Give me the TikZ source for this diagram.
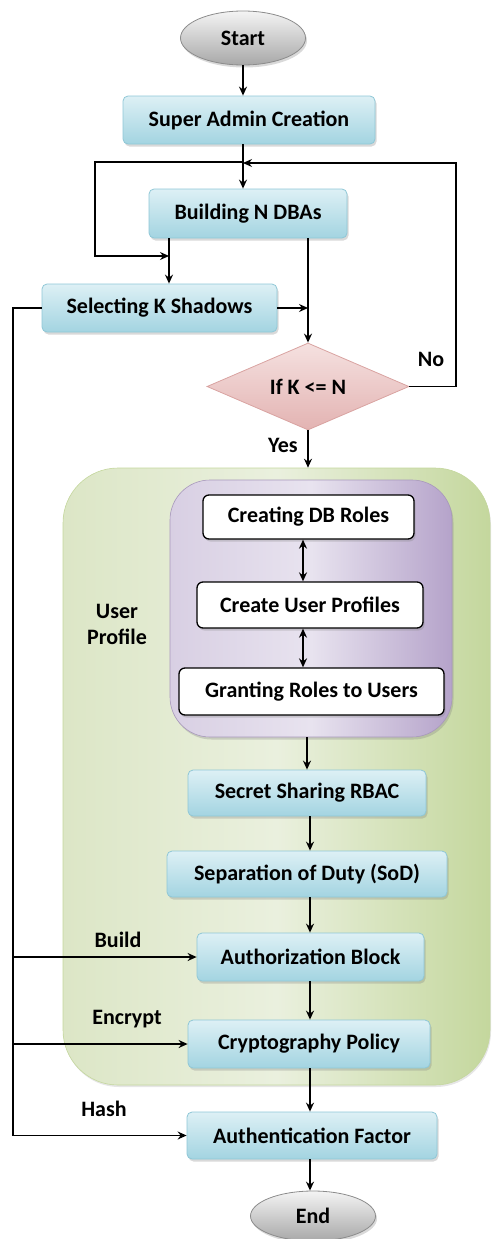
\documentclass[tikz,border=0pt]{standalone}
\usepackage{fontspec}
\setmainfont{Carlito}
\usetikzlibrary{shapes.geometric,arrows.meta,shadows}
\definecolor{bluetop}{HTML}{DDF0F5}
\definecolor{bluebot}{HTML}{A3D4E1}
\definecolor{bluebd}{HTML}{8FC7D6}
\definecolor{greyhi}{HTML}{F4F4F4}
\definecolor{greylo}{HTML}{A8A8A8}
\definecolor{greybd}{HTML}{8C8C8C}
\definecolor{pinktop}{HTML}{F5E1E0}
\definecolor{pinkbot}{HTML}{E3B3B2}
\definecolor{pinkbd}{HTML}{D9A3A1}
\definecolor{grL}{HTML}{DCE6C6}
\definecolor{grM}{HTML}{EAF0DE}
\definecolor{grR}{HTML}{C4D79D}
\definecolor{puL}{HTML}{D8CFE3}
\definecolor{puM}{HTML}{E8E3EF}
\definecolor{puR}{HTML}{B5A3CA}
\definecolor{pubd}{HTML}{A898BC}
\begin{document}
\begin{tikzpicture}[x=1pt,y=-1pt,
  font=\fontsize{22}{26}\selectfont\bfseries,
  shd/.style={drop shadow={shadow xshift=1.5pt,shadow yshift=-2.5pt,opacity=0.3}},
  box/.style={rectangle,rounded corners=5pt,draw=bluebd,line width=0.8pt,
    top color=bluetop,bottom color=bluebot,shd,inner sep=0pt,text=black},
  wbox/.style={rectangle,rounded corners=6pt,draw=black,line width=1.3pt,
    fill=white,shd,inner sep=0pt,text=black},
  term/.style={ellipse,draw=greybd,line width=0.8pt,top color=greyhi,
    bottom color=greylo,shd,inner sep=0pt,minimum width=125pt},
  dec/.style={diamond,draw=pinkbd,line width=0.8pt,top color=pinktop,
    bottom color=pinkbot,inner sep=0pt,aspect=2.3},
  lbl/.style={inner sep=0pt,text=black},
  conn/.style={line width=1.4pt,draw=black},
  arr/.style={conn,-{Stealth[length=9pt,width=8pt,inset=3pt]}},
  dbl/.style={conn,{Stealth[length=9pt,width=8pt,inset=3pt]}-{Stealth[length=9pt,width=8pt,inset=3pt]}}
]
\useasboundingbox (0,0) rectangle (492,1239);

% regions
\node[rectangle,rounded corners=55pt,draw=grR,line width=0.6pt,
  left color=grL,right color=grR,middle color=grM,
  drop shadow={shadow xshift=1pt,shadow yshift=-2pt,opacity=0.2},
  minimum width=427pt,minimum height=617pt,inner sep=0pt] (green) at (276.5,776.5) {};
\node[rectangle,rounded corners=40pt,draw=pubd,line width=0.6pt,
  left color=puL,right color=puR,middle color=puM,
  drop shadow={shadow xshift=1.5pt,shadow yshift=-2.5pt,opacity=0.3},
  minimum width=282pt,minimum height=257pt,inner sep=0pt] (purple) at (311,608.5) {};

% nodes
\node[term,minimum height=54pt] (start) at (243,38) {Start};
\node[box,minimum width=252pt,minimum height=48pt] (super) at (249,120) {Super Admin Creation};
\node[box,minimum width=198pt,minimum height=49pt] (bld) at (248,213.5) {Building N DBAs};
\node[box,minimum width=235pt,minimum height=48pt] (sel) at (159.5,308) {Selecting K Shadows};
\node[dec,minimum width=202pt,minimum height=87pt] (dia) at (308,386.5) {If K <= N};
\node[wbox,minimum width=211pt,minimum height=44pt] (cdb) at (308.5,517) {Creating DB Roles};
\node[wbox,minimum width=226pt,minimum height=46pt] (cup) at (310,605) {Create User Profiles};
\node[wbox,minimum width=265pt,minimum height=47pt] (grant) at (311.5,691.5) {Granting Roles to Users};
\node[box,minimum width=238pt,minimum height=46pt] (secret) at (307,793) {Secret Sharing RBAC};
\node[box,minimum width=280pt,minimum height=46pt] (sod) at (307,874) {Separation of Duty (SoD)};
\node[box,minimum width=227pt,minimum height=48pt] (authb) at (310.5,957) {Authorization Block};
\node[box,minimum width=242pt,minimum height=48pt] (crypt) at (309,1044) {Cryptography Policy};
\node[box,minimum width=250pt,minimum height=47pt] (authf) at (312,1135.5) {Authentication Factor};
\node[term,minimum height=50pt] (end) at (313,1216) {End};

% labels
\node[lbl] (no) at (431,359) {No};
\node[lbl] (yes) at (283,445) {Yes};
\node[lbl,align=center,font=\fontsize{22}{26}\selectfont\bfseries] (up) at (117,624) {User\\Profile};
\node[lbl] (build) at (118,940) {Build};
\node[lbl] (encrypt) at (127,1019) {Encrypt};
\node[lbl] (hash) at (104,1109) {Hash};

% helper coordinates
\coordinate (tx) at (243,162);
\coordinate (lt) at (95,162);
\coordinate (lb) at (95,256);
\coordinate (jb) at (169,256);
\coordinate (rt) at (456,163);
\coordinate (lbot) at (13,1135.5);
\coordinate (dx) at (303,0);
\coordinate (mx) at (310,0);

% connectors
\draw[arr] (start.south) -- (start.south |- super.north);
\draw[arr] (super.south -| tx) -- (bld.north -| tx);
\draw[arr] (tx) -- (lt) -- (lb) -- (jb);
\draw[arr] (bld.south -| jb) -- (sel.north -| jb);
\draw[arr] (bld.south -| dia.north) -- (dia.north);
\draw[arr] (sel.east) -- (sel.east -| dia.north);
\draw[arr] (dia.east) -| (rt) -- (rt -| tx);
\draw[arr] (dia.south) -- (dia.south |- green.north);
\draw[dbl] (cdb.south -| dx) -- (cup.north -| dx);
\draw[dbl] (cup.south -| dx) -- (grant.north -| dx);
\draw[arr] (purple.south -| secret.north) -- (secret.north);
\draw[arr] (secret.south -| mx) -- (sod.north -| mx);
\draw[arr] (sod.south -| mx) -- (authb.north -| mx);
\draw[arr] (authb.south -| mx) -- (crypt.north -| mx);
\draw[arr] (crypt.south -| mx) -- (authf.north -| mx);
\draw[arr] (authf.south -| mx) -- (end.north -| mx);
\draw[arr] (sel.west) -| (lbot) -- (authf.west);
\draw[arr] (lbot |- authb.west) -- (authb.west);
\draw[arr] (lbot |- crypt.west) -- (crypt.west);
\end{tikzpicture}
\end{document}
